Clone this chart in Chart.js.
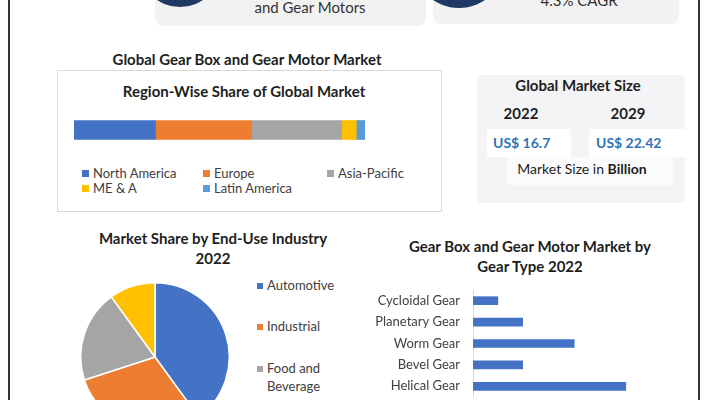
<!DOCTYPE html>
<html>
<head>
<meta charset="utf-8">
<script src="https://cdn.jsdelivr.net/npm/chart.js@4.4.0/dist/chart.umd.min.js"></script>
<style>
  body { margin: 0; width: 708px; height: 400px; overflow: hidden; background: #fff; position: relative; font-family: Lato, sans-serif; color: #1e1e1e; }
  .abs { position: absolute; white-space: nowrap; }
  .card { position: absolute; background: #f2f2f2; border-radius: 8px; }
  .dot { position: absolute; border-radius: 50%; background: #1f3864; }
  .vline { position: absolute; top: 0; width: 2px; height: 400px; background: #333; }
  .title { font-weight: bold; font-size: 15px; text-align: center; }
  .legend-item { position: absolute; font-size: 13px; color: #404040; white-space: nowrap; line-height: 16px; }
  .legend-item span.box { display: inline-block; width: 7px; height: 7px; margin-right: 4px; vertical-align: 1px; }
  canvas { position: absolute; }
</style>
</head>
<body>

<div class="vline" style="left:8px"></div>
<div class="vline" style="left:698px"></div>

<!-- top cards, cut off by the page edge -->
<div class="card" style="left:155px; top:-20px; width:271px; height:46px"></div>
<div class="dot" style="left:139px; top:-75px; width:82px; height:82px"></div>
<div class="abs" style="left:210px; width:200px; top:-2px; line-height:18px; font-size:15px; color:#333; text-align:center">and Gear Motors</div>

<div class="card" style="left:433px; top:-20px; width:246px; height:44px"></div>
<div class="dot" style="left:413px; top:-84px; width:92px; height:92px"></div>
<div class="abs" style="left:529px; width:100px; top:-9px; line-height:18px; font-size:15px; color:#333; text-align:center">4.3% CAGR</div>

<!-- region share block -->
<div class="abs title" style="left:97px; width:300px; top:50px; line-height:18px">Global Gear Box and Gear Motor Market</div>
<div class="abs" style="left:57px; top:70px; width:383px; height:140px; border:1px solid #d9d9d9"></div>
<div class="abs title" style="left:94px; width:300px; top:82px; line-height:18px; font-size:15px">Region-Wise Share of Global Market</div>
<canvas id="regionChart" width="291" height="40" style="left:74px; top:110px"></canvas>
<div id="regionLegend"></div>

<!-- market size block -->
<div class="abs" style="left:477px; top:75px; width:208px; height:128px; background:#f4f4f6; border-radius:4px"></div>
<div class="abs title" style="left:478px; width:200px; top:76px; line-height:18px">Global Market Size</div>
<div class="abs title" style="left:481px; width:80px; top:104px; line-height:18px" id="yearA"></div>
<div class="abs title" style="left:588px; width:80px; top:104px; line-height:18px" id="yearB"></div>
<div class="abs" style="left:487px; top:129px; width:84px; height:28px; background:#fff"></div>
<div class="abs" style="left:589px; top:129px; width:100px; height:28px; background:#fff"></div>
<div class="abs" style="left:493px; top:134px; line-height:18px; font-size:14px; font-weight:bold; color:#2e75b6" id="sizeA"></div>
<div class="abs" style="left:596px; top:134px; line-height:18px; font-size:14px; font-weight:bold; color:#2e75b6" id="sizeB"></div>
<div class="abs" style="left:507px; top:157px; width:166px; height:28px; background:#fbfbfc"></div>
<div class="abs" style="left:482px; width:200px; top:160px; line-height:18px; font-size:14px; color:#1e1e1e; text-align:center">Market Size in <b>Billion</b></div>

<!-- end-use pie block -->
<div class="abs title" style="left:63px; width:300px; top:228px; line-height:20px">Market Share by End-Use Industry<br>2022</div>
<canvas id="pieChart" width="150" height="150" style="left:80px; top:282px"></canvas>
<div id="pieLegend"></div>

<!-- gear type block -->
<div class="abs title" style="left:380px; width:300px; top:236px; line-height:20px">Gear Box and Gear Motor Market by<br>Gear Type 2022</div>
<canvas id="gearChart" width="294" height="112" style="left:370px; top:285px"></canvas>

<script>
// Region-wise share (%)
const regions = ['North America', 'Europe', 'Asia-Pacific', 'ME & A', 'Latin America'];
const regionShare = [28, 33, 31, 5, 3];
const regionColors = ['#4472c4', '#ed7d31', '#a5a5a5', '#ffc000', '#5b9bd5'];

// Market size, US$ billion
const sizeYears = ['2022', '2029'];
const marketSize = ['16.7', '22.42'];

// End-use industry share 2022 (%)
const industries = ['Automotive', 'Industrial', 'Food and Beverage', 'Others'];
const industryShare = [40, 30, 20, 10];
const industryColors = ['#4472c4', '#ed7d31', '#a5a5a5', '#ffc000'];

// Gear type share 2022 (%)
const gearTypes = ['Cycloidal Gear', 'Planetary Gear', 'Worm Gear', 'Bevel Gear', 'Helical Gear'];
const gearShare = [6.5, 13, 26.5, 13, 40];

Chart.defaults.font.family = 'Lato, sans-serif';

document.getElementById('yearA').textContent = sizeYears[0];
document.getElementById('yearB').textContent = sizeYears[1];
document.getElementById('sizeA').textContent = 'US$ ' + marketSize[0];
document.getElementById('sizeB').textContent = 'US$ ' + marketSize[1];

// legends are laid out by hand like the original grid
function addLegend(holder, names, colors, spots) {
    const el = document.getElementById(holder);
    names.forEach(function (name, i) {
        const item = document.createElement('div');
        item.className = 'legend-item';
        item.style.left = spots[i][0] + 'px';
        item.style.top = spots[i][1] + 'px';
        const box = document.createElement('span');
        box.className = 'box';
        box.style.background = colors[i];
        item.appendChild(box);
        item.appendChild(document.createTextNode(name));
        el.appendChild(item);
    });
}
addLegend('regionLegend', regions, regionColors, [[82, 165], [203, 165], [327, 165], [82, 180], [203, 180]]);

const pieSpots = [[257, 276], [257, 317], [257, 359], [257, 418]];
industries.forEach(function (name, i) {
    const el = document.createElement('div');
    el.className = 'legend-item';
    el.style.left = pieSpots[i][0] + 'px';
    el.style.top = pieSpots[i][1] + 'px';
    el.style.lineHeight = '18px';
    const box = document.createElement('span');
    box.className = 'box';
    box.style.width = '6px';
    box.style.height = '6px';
    box.style.marginRight = '4px';
    box.style.background = industryColors[i];
    el.appendChild(box);
    const words = name.split(' ');
    if (words.length > 2) {
        el.appendChild(document.createTextNode(words.slice(0, 2).join(' ')));
        el.appendChild(document.createElement('br'));
        const rest = document.createElement('span');
        rest.style.paddingLeft = '10px';
        rest.textContent = words.slice(2).join(' ');
        el.appendChild(rest);
    } else {
        el.appendChild(document.createTextNode(name));
    }
    document.getElementById('pieLegend').appendChild(el);
});

// Stacked region bar
new Chart(document.getElementById('regionChart'), {
    type: 'bar',
    data: {
        labels: ['Share'],
        datasets: regions.map(function (r, i) {
            return { label: r, data: [regionShare[i]], backgroundColor: regionColors[i], barThickness: 19 };
        })
    },
    options: {
        indexAxis: 'y',
        responsive: false,
        animation: false,
        plugins: { legend: { display: false }, tooltip: { enabled: false } },
        scales: {
            x: { display: false, stacked: true, min: 0, max: 100 },
            y: { display: false, stacked: true }
        }
    }
});

// End-use pie
new Chart(document.getElementById('pieChart'), {
    type: 'pie',
    data: {
        labels: industries,
        datasets: [{ data: industryShare, backgroundColor: industryColors, borderColor: '#fff', borderWidth: 1.5 }]
    },
    options: {
        responsive: false,
        animation: false,
        plugins: { legend: { display: false }, tooltip: { enabled: false } }
    }
});

// Gear type bars
new Chart(document.getElementById('gearChart'), {
    type: 'bar',
    data: {
        labels: gearTypes,
        datasets: [{ data: gearShare, backgroundColor: '#4472c4', barThickness: 8 }]
    },
    options: {
        indexAxis: 'y',
        responsive: false,
        animation: false,
        layout: { padding: { top: 5, right: 0, bottom: 0, left: 0 } },
        plugins: { legend: { display: false }, tooltip: { enabled: false } },
        scales: {
            x: { display: false, min: 0, max: 50 },
            y: {
                grid: { display: false, drawTicks: false },
                border: { display: true, color: '#d9d9d9' },
                ticks: { color: '#404040', font: { size: 13 }, padding: 13 },
                afterFit: function (scale) {
                    scale.width = 103;
                    // keep label padding from shrinking the plot vertically
                    scale.paddingTop = 0;
                    scale.paddingBottom = 0;
                }
            }
        }
    }
});
</script>
</body>
</html>
